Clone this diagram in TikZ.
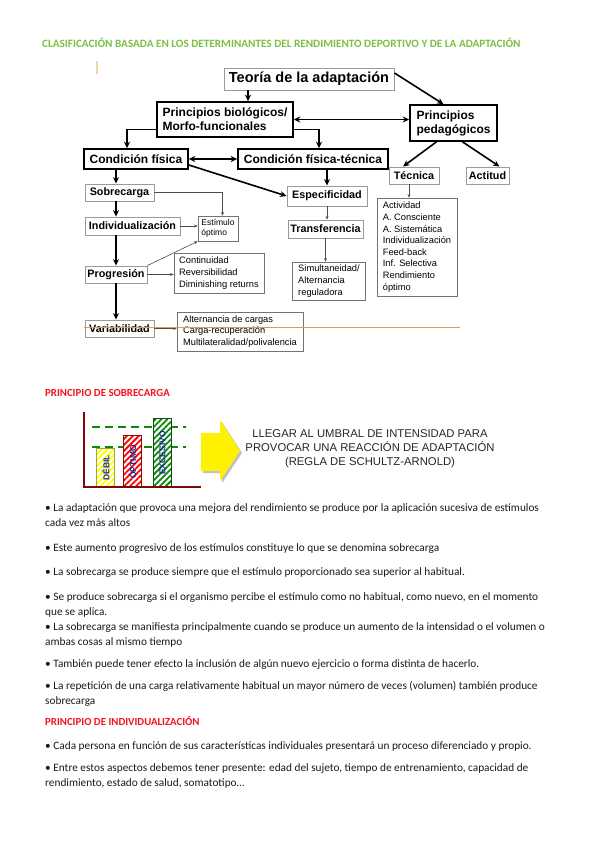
\documentclass[tikz,border=0pt]{standalone}
\usepackage{fontspec}
\setmainfont{Carlito}
\newfontfamily\arialfont{Liberation Sans}
\usetikzlibrary{arrows.meta, patterns.meta, calc}
\definecolor{titlegreen}{HTML}{7CBF45}
\definecolor{headred}{HTML}{F5141E}
\definecolor{boxgray}{HTML}{9A9A9A}
\definecolor{rulebrown}{HTML}{D2A24C}
\definecolor{marktan}{HTML}{EED9A8}
\definecolor{axisred}{HTML}{7A0A0A}
\definecolor{dashgreen}{HTML}{0A8A0A}
\definecolor{barblue}{HTML}{1A2A9A}
\definecolor{textblack}{HTML}{1A1A1A}

\tikzset{
  thickbox/.style={draw=black, line width=1.6pt, inner sep=0pt, align=left,
    font=\arialfont\bfseries\fontsize{12}{14}\selectfont},
  thinbox/.style={draw=boxgray, line width=0.9pt, fill=white, inner sep=0pt,
    font=\arialfont\bfseries\fontsize{10.8}{13}\selectfont},
  listbox/.style={draw=black!55, line width=0.7pt, inner sep=0pt, align=left,
    font=\arialfont\fontsize{9.3}{11.6}\selectfont},
  bigarrow/.style={->, line width=1.6pt},
  bigboth/.style={<->, line width=1.4pt},
  smallarrow/.style={-{Stealth[length=3.5pt,width=3pt]}, line width=0.6pt, draw=black!70},
  bodyline/.style={anchor=base west, inner sep=0pt, align=left, text=textblack,
    font=\fontsize{11.3}{14.8}\selectfont},
  redhead/.style={anchor=base west, inner sep=0pt, text=headred,
    font=\bfseries\fontsize{10.8}{12}\selectfont},
  barlabel/.style={rotate=90, text=barblue, font=\arialfont\bfseries\fontsize{8.5}{10}\selectfont},
}

\begin{document}
\begin{tikzpicture}[x=1pt, y=-1pt, >={Stealth[length=6.5pt,width=6pt]}]
\useasboundingbox (0,0) rectangle (599,848);
\fill[white] (0,0) rectangle (599,848);

% title
\node[anchor=base west, inner sep=0pt, text=titlegreen, font=\bfseries\fontsize{11.2}{12}\selectfont] (title) at (42,47.5)
  {CLASIFICACIÓN BASADA EN LOS DETERMINANTES DEL RENDIMIENTO DEPORTIVO Y DE LA ADAPTACIÓN};
\draw[marktan, line width=1.5pt] (97,61) -- (97,74);

% upper diagram
\node[thinbox, font=\arialfont\bfseries\fontsize{14.5}{16}\selectfont, minimum width=170pt, minimum height=22pt] (teoria) at (309,79) {Teoría de la adaptación};
\node[thickbox, minimum width=136pt, minimum height=35pt] (biol) at (225,119.5) {Principios biológicos/\\Morfo-funcionales};
\node[thickbox, minimum width=87pt, minimum height=36pt] (pedag) at (453.5,123) {Principios\\pedagógicos};
\node[thickbox, minimum width=104pt, minimum height=20pt] (cf) at (136,159) {Condición física};
\node[thickbox, minimum width=150pt, minimum height=20pt] (cft) at (313,159) {Condición física-técnica};
\node[thinbox, minimum width=50pt, minimum height=17pt] (tecnica) at (414,175.5) {Técnica};
\node[thinbox, minimum width=43pt, minimum height=17pt] (actitud) at (487.5,175.5) {Actitud};
\node[thinbox, minimum width=80pt, minimum height=20pt] (espec) at (327,196) {Especificidad};
\node[thinbox, minimum width=75pt, minimum height=18pt] (transf) at (325.5,229) {Transferencia};
\node[listbox, minimum width=73pt, minimum height=38pt] (simult) at (329,281) {Simultaneidad/\\Alternancia\\reguladora};
\node[listbox, minimum width=80pt, minimum height=98pt] (teclist) at (417,247)
  {Actividad\\A. Consciente\\A. Sistemática\\Individualización\\Feed-back\\Inf. Selectiva\\Rendimiento\\óptimo};

% left column
\node[thinbox, minimum width=69pt, minimum height=17pt] (sobre) at (119.5,192.5) {Sobrecarga};
\node[thinbox, minimum width=95pt, minimum height=18pt] (indiv) at (132.5,226) {Individualización};
\node[listbox, font=\arialfont\fontsize{8.5}{10.5}\selectfont, minimum width=40pt, minimum height=25pt] (estim) at (218,228.5) {Estímulo\\óptimo};
\node[thinbox, minimum width=62pt, minimum height=17pt] (prog) at (116,274.5) {Progresión};
\node[listbox, minimum width=90pt, minimum height=40pt] (proglist) at (219,273) {Continuidad\\Reversibilidad\\Diminishing returns};
\node[thinbox, minimum width=69pt, minimum height=17pt] (var) at (119.5,328.5) {Variabilidad};
\node[listbox, minimum width=126pt, minimum height=39pt] (varlist) at (240,331.5) {Alternancia de cargas\\Carga-recuperación\\Multilateralidad/polivalencia};

% connectors
\draw[bigarrow] (teoria.south -| 248,0) -- (biol.north -| 248,0);
\draw[bigarrow] ([yshift=6pt]teoria.east) -- ([xshift=-10pt]pedag.north);
\draw[bigboth] (biol.east) -- (biol.east -| pedag.west);
\draw[bigarrow] ([yshift=-10pt]biol.west) -| ([xshift=-9pt]cf.north);
\draw[bigarrow] ([yshift=-10pt]biol.east) -| ([xshift=6pt]cft.north);
\draw[bigboth] (cf.east) -- (cft.west);
\draw[bigarrow] ([yshift=-6pt]cf.east) -- (espec.west);
\draw[bigarrow] (cft.south -| espec.north) -- (espec.north);
\draw[bigarrow] ([xshift=-17pt]pedag.south) -- ([xshift=-11pt]tecnica.north);
\draw[bigarrow] ([xshift=9pt]pedag.south) -- ([xshift=12pt]actitud.north);
\draw[smallarrow] ([xshift=-5pt]tecnica.south) -- ([xshift=-5pt]tecnica.south |- teclist.north);
\draw[smallarrow] (espec.south) -- (espec.south |- transf.north);
\draw[smallarrow] (transf.south) -- (transf.south |- simult.north);

\draw[bigarrow] (cf.south -| prog.north) -- (sobre.north -| prog.north);
\draw[bigarrow, line width=2.2pt] (sobre.south -| prog.north) -- (indiv.north -| prog.north);
\draw[bigarrow, line width=2.2pt] (indiv.south -| prog.north) -- (prog.north);
\draw[bigarrow, line width=2.2pt] (prog.south) -- (prog.south |- var.north);
\draw[smallarrow] (sobre.east) -| ([xshift=4.5pt]estim.north);
\draw[smallarrow] (indiv.east) -- (indiv.east -| estim.west);
\draw[smallarrow] (prog.north east) -- (estim.south west);
\draw[smallarrow] (prog.east) -- (prog.east -| proglist.west);
\draw[smallarrow] (var.east) -- (var.east -| varlist.west);

\draw[rulebrown, line width=0.8pt] (84,327) -- (460,327);

% principio de sobrecarga
\node[redhead] (sobrehead) at (45,396.5) {PRINCIPIO DE SOBRECARGA};

\draw[dashgreen, line width=2pt, dash pattern=on 8pt off 5pt] (92,427) -- (186,427);
\draw[dashgreen, line width=2pt, dash pattern=on 8pt off 5pt] (92,447) -- (186,447);
\foreach \bx/\btop/\bcol in {96.5/448/yellow, 123.5/435/red, 153.5/418/dashgreen} {
  \fill[white] (\bx,\btop) rectangle ++(18,487-\btop);
  \fill[pattern={Lines[angle=45,distance=4.2pt,line width=1.8pt]}, pattern color=\bcol] (\bx,\btop) rectangle ++(18,487-\btop);
  \draw[\bcol!60!black, line width=0.4pt] (\bx,\btop) rectangle ++(18,487-\btop);
}
\node[barlabel] (debil) at (105.5,468) {DÉBIL};
\node[barlabel] (optimo) at (132.5,462) {ÓPTIMO};
\node[barlabel] (excesivo) at (162.5,453) {EXCESIVO};
\draw[axisred, line width=1.8pt] (84,412) -- (84,487) -- (201,487);

\fill[black!25] (203,435) -- (222,435) -- (222,422) -- (242,453) -- (222,483) -- (222,473) -- (203,473) -- cycle;
\fill[yellow] (201,433) -- (220,433) -- (220,420) -- (240,451) -- (220,481) -- (220,471) -- (201,471) -- cycle;
\node[font=\arialfont\fontsize{11.3}{14}\selectfont, align=center, text=black!85] (umbral) at (370,449)
  {LLEGAR AL UMBRAL DE INTENSIDAD PARA\\PROVOCAR UNA REACCIÓN DE ADAPTACIÓN\\(REGLA DE SCHULTZ-ARNOLD)};

% bullets (anchor on the last line's baseline)
\node[bodyline] (b1) at (45,526) {• La adaptación que provoca una mejora del rendimiento se produce por la aplicación sucesiva de estímulos\\cada vez más altos};
\node[bodyline] (b2) at (45,551) {• Este aumento progresivo de los estímulos constituye lo que se denomina sobrecarga};
\node[bodyline] (b3) at (45,575) {• La sobrecarga se produce siempre que el estímulo proporcionado sea superior al habitual.};
\node[bodyline] (b4) at (45,615) {• Se produce sobrecarga si el organismo percibe el estímulo como no habitual, como nuevo, en el momento\\que se aplica.};
\node[bodyline] (b5) at (45,645) {• La sobrecarga se manifiesta principalmente cuando se produce un aumento de la intensidad o el volumen o\\ambas cosas al mismo tiempo};
\node[bodyline] (b6) at (45,667) {• También puede tener efecto la inclusión de algún nuevo ejercicio o forma distinta de hacerlo.};
\node[bodyline] (b7) at (45,704) {• La repetición de una carga relativamente habitual un mayor número de veces (volumen) también produce\\sobrecarga};

\node[redhead] (indivhead) at (45,725.5) {PRINCIPIO DE INDIVIDUALIZACIÓN};
\node[bodyline] (b8) at (45,749) {• Cada persona en función de sus características individuales presentará un proceso diferenciado y propio.};
\node[bodyline] (b9) at (45,786) {• Entre estos aspectos debemos tener presente: edad del sujeto, tiempo de entrenamiento, capacidad de\\rendimiento, estado de salud, somatotipo…};
\end{tikzpicture}
\end{document}
